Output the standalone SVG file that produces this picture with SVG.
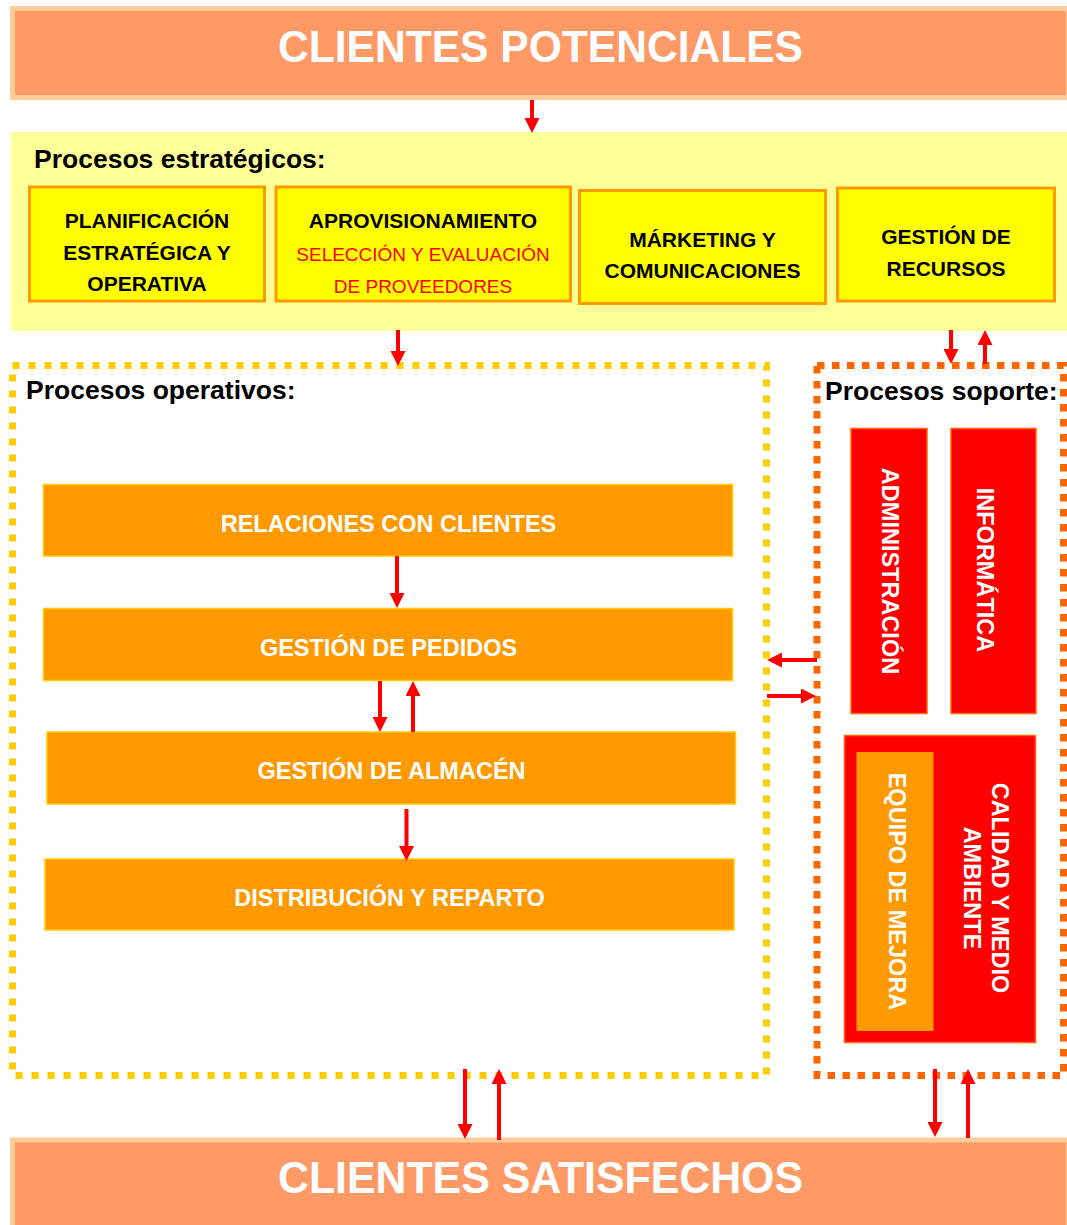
<svg xmlns="http://www.w3.org/2000/svg" width="1067" height="1225" viewBox="0 0 1067 1225">
  <style>
    text { font-family: "Liberation Sans", Arial, sans-serif; }
    .banner { fill: #FF9966; stroke: #FFCC99; stroke-width: 5; }
    .banner-text { fill: #FFFFFF; font-weight: bold; font-size: 45px; text-anchor: middle; }
    .section { fill: #000000; font-weight: bold; font-size: 26.5px; }
    .strat { fill: #FFFF00; stroke: #FF9900; stroke-width: 3; }
    .strat-text { fill: #000000; font-weight: bold; font-size: 21px; text-anchor: middle; }
    .strat-sub { fill: #FF0000; font-size: 19px; text-anchor: middle; }
    .op { fill: #FF9900; stroke: #FFCC00; stroke-width: 1.5; }
    .op-text { fill: #FFFFFF; font-weight: bold; font-size: 23.5px; text-anchor: middle; }
    .sup { fill: #FF0000; stroke: #FF6600; stroke-width: 1.5; }
    .sup-inner { fill: #FF9900; stroke: #FF9900; stroke-width: 1; }
    .sup-text { fill: #FFFFFF; font-weight: bold; font-size: 23.5px; text-anchor: middle; }
    .arrow { stroke: #FF0000; stroke-width: 4; fill: none; marker-end: url(#head); }
  </style>
  <defs>
    <marker id="head" markerUnits="userSpaceOnUse" viewBox="0 0 15 15" markerWidth="15" markerHeight="15" refX="1" refY="7.5" orient="auto">
      <path d="M0,0 L15,7.5 L0,15 z" fill="#FF0000"/>
    </marker>
  </defs>

  <!-- top banner -->
  <g id="clientes-potenciales">
    <rect class="banner" x="12.5" y="8.5" width="1056" height="89"/>
    <text class="banner-text" x="540.5" y="62" textLength="525" lengthAdjust="spacingAndGlyphs">CLIENTES POTENCIALES</text>
  </g>

  <!-- strategic processes band -->
  <g id="procesos-estrategicos">
    <rect x="11" y="132" width="1056" height="199" fill="#FFFF99"/>
    <text class="section" x="34" y="168">Procesos estratégicos:</text>
  </g>
  <g id="planificacion">
    <rect class="strat" x="29.5" y="187" width="235" height="114"/>
    <text class="strat-text" x="147" y="228">PLANIFICACIÓN</text>
    <text class="strat-text" x="147" y="259.5">ESTRATÉGICA Y</text>
    <text class="strat-text" x="147" y="290.5">OPERATIVA</text>
  </g>
  <g id="aprovisionamiento">
    <rect class="strat" x="276" y="187" width="294.5" height="114"/>
    <text class="strat-text" x="423" y="228">APROVISIONAMIENTO</text>
    <text class="strat-sub" x="423" y="261">SELECCIÓN Y EVALUACIÓN</text>
    <text class="strat-sub" x="423" y="292.5">DE PROVEEDORES</text>
  </g>
  <g id="marketing">
    <rect class="strat" x="579.5" y="190.5" width="246" height="113"/>
    <text class="strat-text" x="702.5" y="246.5">MÁRKETING Y</text>
    <text class="strat-text" x="702.5" y="278">COMUNICACIONES</text>
  </g>
  <g id="gestion-recursos">
    <rect class="strat" x="837.5" y="188" width="217" height="113"/>
    <text class="strat-text" x="946" y="244">GESTIÓN DE</text>
    <text class="strat-text" x="946" y="276">RECURSOS</text>
  </g>

  <!-- operational processes -->
  <g id="procesos-operativos">
    <rect x="12.5" y="365.5" width="754" height="710" fill="none" stroke="#FFCC00" stroke-width="7" stroke-dasharray="7 9"/>
    <text class="section" x="26" y="399">Procesos operativos:</text>
  </g>
  <g id="relaciones-clientes">
    <rect class="op" x="43.5" y="484.5" width="689" height="71.5"/>
    <text class="op-text" x="388.5" y="532">RELACIONES CON CLIENTES</text>
  </g>
  <g id="gestion-pedidos">
    <rect class="op" x="43.5" y="608.5" width="689" height="72"/>
    <text class="op-text" x="388.5" y="656">GESTIÓN DE PEDIDOS</text>
  </g>
  <g id="gestion-almacen">
    <rect class="op" x="47" y="732" width="688.5" height="72"/>
    <text class="op-text" x="391.5" y="779">GESTIÓN DE ALMACÉN</text>
  </g>
  <g id="distribucion-reparto">
    <rect class="op" x="45" y="859" width="689" height="71"/>
    <text class="op-text" x="389.5" y="905.5">DISTRIBUCIÓN Y REPARTO</text>
  </g>

  <!-- support processes -->
  <g id="procesos-soporte">
    <rect x="817" y="365.5" width="246.5" height="710" fill="none" stroke="#FF6600" stroke-width="7" stroke-dasharray="7.5 7.5"/>
    <text class="section" x="825" y="400">Procesos soporte:</text>
  </g>
  <g id="administracion">
    <rect class="sup" x="851" y="428.5" width="76" height="285"/>
    <text class="sup-text" transform="translate(882,571) rotate(90)">ADMINISTRACIÓN</text>
  </g>
  <g id="informatica">
    <rect class="sup" x="951" y="428.5" width="85" height="285"/>
    <text class="sup-text" transform="translate(977,570) rotate(90)">INFORMÁTICA</text>
  </g>
  <g id="calidad-medio-ambiente">
    <rect class="sup" x="844.5" y="735.5" width="191" height="307"/>
    <text class="sup-text" transform="translate(992,888) rotate(90)">CALIDAD Y MEDIO</text>
    <text class="sup-text" transform="translate(964,888) rotate(90)">AMBIENTE</text>
  </g>
  <g id="equipo-mejora">
    <rect class="sup-inner" x="857" y="752.5" width="76" height="278"/>
    <text class="sup-text" transform="translate(889,891.5) rotate(90)">EQUIPO DE MEJORA</text>
  </g>

  <!-- bottom banner -->
  <g id="clientes-satisfechos">
    <rect class="banner" x="12.5" y="1140" width="1056" height="100"/>
    <text class="banner-text" x="540.5" y="1193" textLength="525" lengthAdjust="spacingAndGlyphs">CLIENTES SATISFECHOS</text>
  </g>

  <!-- connectors -->
  <g id="connectors">
    <line class="arrow" x1="532" y1="100" x2="532" y2="119"/>
    <line class="arrow" x1="398" y1="330" x2="398" y2="352"/>
    <line class="arrow" x1="951" y1="330" x2="951" y2="350"/>
    <line class="arrow" x1="985" y1="364" x2="985" y2="344"/>
    <line class="arrow" x1="397" y1="556" x2="397" y2="594"/>
    <line class="arrow" x1="380" y1="681" x2="380" y2="718"/>
    <line class="arrow" x1="413" y1="732" x2="413" y2="695"/>
    <line class="arrow" x1="406.5" y1="809" x2="406.5" y2="847"/>
    <line class="arrow" x1="817" y1="660" x2="781" y2="660"/>
    <line class="arrow" x1="767" y1="696" x2="802" y2="696"/>
    <line class="arrow" x1="465" y1="1069" x2="465" y2="1125"/>
    <line class="arrow" x1="499" y1="1140" x2="499" y2="1083"/>
    <line class="arrow" x1="935" y1="1069" x2="935" y2="1123"/>
    <line class="arrow" x1="968" y1="1138" x2="968" y2="1083"/>
  </g>
</svg>
